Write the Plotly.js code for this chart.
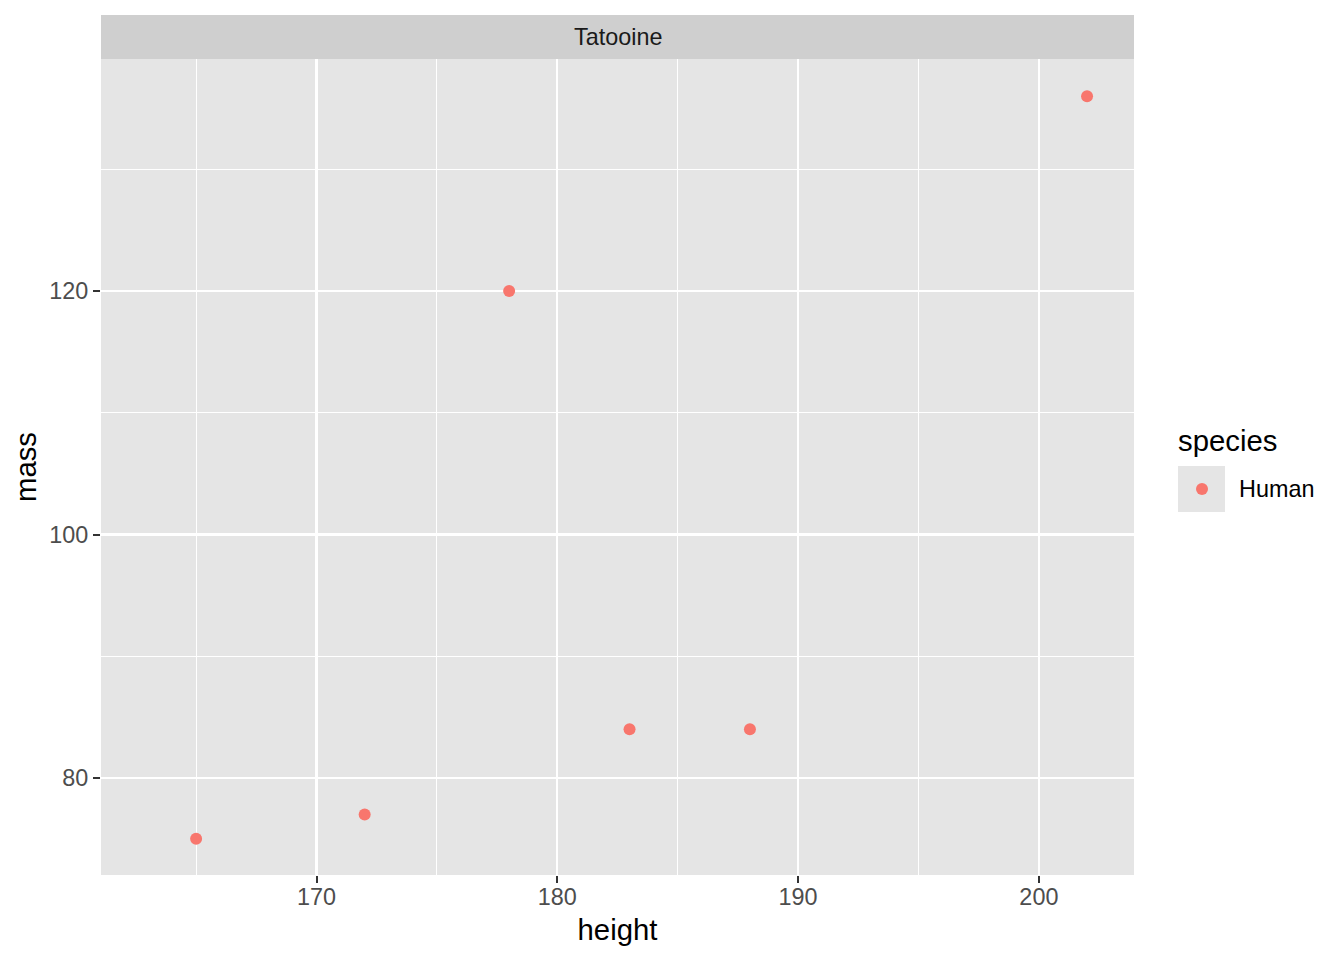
<!DOCTYPE html>
<html>
<head>
<meta charset="utf-8">
<script src="https://cdn.plot.ly/plotly-3.0.1.min.js"></script>
<style>html,body{margin:0;padding:0;background:#fff;}#chart{width:1344px;height:960px;}</style>
</head>
<body>
<div id="chart"></div>
<script>
const height = [165, 172, 178, 183, 188, 202];
const mass = [75, 77, 120, 84, 84, 136];
const species = "Human";
const facet = "Tatooine";
const xTicks = [170, 180, 190, 200];
const yTicks = [80, 100, 120];

const W = 1344, H = 960;
const mL = 101, mR = W - 1134, mT = 15, mB = H - 875;
const plotH = H - mT - mB;
const panelTop = (875 - 59) / plotH;
const plotW = W - mL - mR;
const px = v => (v - mL) / plotW;

const font = "Liberation Sans, Arial, Helvetica, sans-serif";
const small = 23.4, big = 29.3;

const trace = {
  x: height, y: mass, type: "scatter", mode: "markers",
  name: species,
  marker: {color: "#F8766D", size: 12},
  showlegend: false,
  hoverinfo: "x+y"
};

const layout = {
  width: W, height: H,
  margin: {l: mL, r: mR, t: mT, b: mB, pad: 0},
  paper_bgcolor: "#FFFFFF",
  plot_bgcolor: "#E5E5E5",
  font: {family: font},
  showlegend: false,
  xaxis: {
    range: [161.05, 203.95],
    tickvals: xTicks, ticktext: xTicks.map(String),
    ticks: "outside", ticklen: 7, tickwidth: 2, tickcolor: "#333333",
    tickfont: {size: small, color: "#4D4D4D", family: font},
    ticklabelstandoff: -6,
    showgrid: true, gridcolor: "#FFFFFF", gridwidth: 2.2,
    minor: {dtick: 5, tick0: 0, showgrid: true, gridcolor: "#FFFFFF", gridwidth: 1.1, ticks: ""},
    zeroline: false, showline: false,
    title: {text: "height", font: {size: big, color: "#000000", family: font}, standoff: 10},
    automargin: false
  },
  yaxis: {
    domain: [0, panelTop],
    range: [72.03, 139.06],
    tickvals: yTicks, ticktext: yTicks.map(String),
    ticks: "outside", ticklen: 7, tickwidth: 2, tickcolor: "#333333",
    tickfont: {size: small, color: "#4D4D4D", family: font},
    showgrid: true, gridcolor: "#FFFFFF", gridwidth: 2.2,
    minor: {dtick: 10, tick0: 0, showgrid: true, gridcolor: "#FFFFFF", gridwidth: 1.1, ticks: ""},
    zeroline: false, showline: false,
    title: {text: "mass", font: {size: big, color: "#000000", family: font}, standoff: 4},
    automargin: false
  },
  shapes: [
    {type: "rect", xref: "paper", yref: "paper", x0: 0, x1: 1, y0: panelTop, y1: 1,
     fillcolor: "#CFCFCF", line: {width: 0}, layer: "below"},
    {type: "rect", xref: "paper", yref: "paper",
     x0: px(1178), x1: px(1225), y0: (875 - 512) / plotH, y1: (875 - 466) / plotH,
     fillcolor: "#E5E5E5", line: {width: 0}},
    {type: "circle", xref: "paper", yref: "paper",
     x0: px(1202 - 6), x1: px(1202 + 6), y0: (875 - 489 - 6) / plotH, y1: (875 - 489 + 6) / plotH,
     fillcolor: "#F8766D", line: {width: 0}}
  ],
  annotations: [
    {text: facet, xref: "paper", yref: "paper", x: 0.5, y: (1 + panelTop) / 2,
     xanchor: "center", yanchor: "middle", showarrow: false,
     font: {size: small, color: "#1A1A1A", family: font}},
    {text: "species", xref: "paper", yref: "paper", x: px(1176), y: (875 - 440) / plotH,
     xanchor: "left", yanchor: "middle", showarrow: false,
     font: {size: big, color: "#000000", family: font}},
    {text: species, xref: "paper", yref: "paper", x: px(1237), y: (875 - 489) / plotH,
     xanchor: "left", yanchor: "middle", showarrow: false,
     font: {size: small, color: "#000000", family: font}}
  ]
};

Plotly.newPlot("chart", [trace], layout, {staticPlot: true, displayModeBar: false});
</script>
</body>
</html>
